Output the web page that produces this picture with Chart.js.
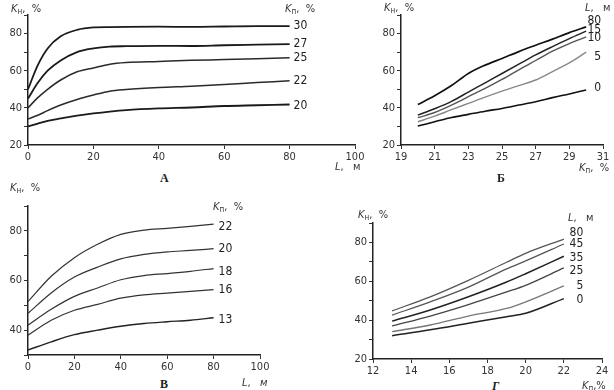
<!DOCTYPE html>
<html>
<head>
<meta charset="utf-8">
<script src="https://cdn.jsdelivr.net/npm/chart.js@4"></script>
<style>
  body { margin: 0; background: #fff; }
  #wrap { position: relative; width: 614px; height: 390px; overflow: hidden; background: #fff; }
  canvas { position: absolute; }
  .t { position: absolute; font-family: 'Liberation Sans Narrow', 'Arial Narrow', 'DejaVu Sans Condensed', sans-serif;
       font-size: 11px; line-height: 11px; color: #333; white-space: nowrap; }
  .t i { font-style: italic; }
  .t sub { font-size: 8px; vertical-align: -2px; line-height: 0; }
  .cap { position: absolute; font-family: 'Liberation Serif', 'DejaVu Serif', serif; font-weight: bold;
         font-size: 12px; line-height: 12px; color: #222; }
</style>
</head>
<body>
<div id="wrap">
  <canvas id="chA" width="375" height="165" style="left:0;top:0"></canvas>
  <canvas id="chB" width="243" height="165" style="left:372px;top:0"></canvas>
  <canvas id="chV" width="280" height="185" style="left:0;top:190px"></canvas>
  <canvas id="chG" width="269" height="179" style="left:345px;top:200px"></canvas>

  <div class="t" style="left:11px;top:3px"><i>K</i><sub>н</sub>,&nbsp; %</div>
  <div class="t" style="left:285px;top:3px"><i>K</i><sub>п</sub>,&nbsp; %</div>
  <div class="t" style="left:335px;top:161px"><i>L</i>,&nbsp;&nbsp; м</div>
  <div class="cap" style="left:160px;top:172px">А</div>

  <div class="t" style="left:384px;top:2px"><i>K</i><sub>н</sub>,&nbsp; %</div>
  <div class="t" style="left:585px;top:2px"><i>L</i>,&nbsp;&nbsp; м</div>
  <div class="t" style="left:579px;top:162px"><i>K</i><sub>п</sub>,&nbsp; %</div>
  <div class="cap" style="left:497px;top:172px">Б</div>

  <div class="t" style="left:10px;top:182px"><i>K</i><sub>н</sub>,&nbsp; %</div>
  <div class="t" style="left:213px;top:201px"><i>K</i><sub>п</sub>,&nbsp; %</div>
  <div class="t" style="left:242px;top:377px"><i>L</i>,&nbsp;&nbsp; <i>м</i></div>
  <div class="cap" style="left:160px;top:378px">В</div>

  <div class="t" style="left:358px;top:209px"><i>K</i><sub>н</sub>,&nbsp; %</div>
  <div class="t" style="left:568px;top:212px"><i>L</i>,&nbsp;&nbsp; м</div>
  <div class="t" style="left:582px;top:380px"><i>K</i><sub>п</sub>,%</div>
  <div class="cap" style="left:492px;top:380px;font-style:italic">Г</div>
</div>
<script>
// ---- panel A: Кн vs L for different Кп
const lenA = [0, 3, 6, 10, 15, 20, 25, 30, 40, 50, 60, 70, 80];
const kpA = ['30', '27', '25', '22', '20'];
const knA30 = [50, 63, 72, 78.5, 82, 83.3, 83.5, 83.6, 83.7, 83.6, 83.8, 84, 84];
const knA27 = [45, 53.5, 60, 65.5, 70, 72, 73, 73.2, 73.4, 73.3, 73.7, 74, 74.3];
const knA25 = [40, 45.5, 50, 55, 59.4, 61.5, 63.5, 64.4, 65, 65.6, 66, 66.5, 67];
const knA22 = [34, 36, 38.5, 41.5, 44.5, 46.9, 49, 49.9, 51, 51.7, 52.6, 53.6, 54.6];
const knA20 = [30, 31.5, 33, 34.3, 35.8, 37, 38, 38.8, 39.7, 40.2, 41, 41.4, 41.8];

// ---- panel Б: Кн vs Кп for different L
const kpB = [20, 21, 22, 23, 24, 25, 26, 27, 28, 29, 30];
const lB = ['80', '15', '10', '5', '0'];
const knB80 = [41.8, 46.5, 52, 58.5, 63, 66.6, 70.3, 73.7, 77, 80.5, 83.6];
const knB15 = [36.1, 39.5, 43.5, 48.5, 53.5, 58.5, 63.5, 68.5, 73, 77.3, 81.3];
const knB10 = [34.7, 37.5, 41.5, 46, 50.5, 55.3, 60.5, 65.5, 70.5, 74.6, 78.2];
const knB5 = [32.5, 35.5, 39, 42.4, 45.8, 49, 52, 55, 59.5, 64.2, 70];
const knB0 = [30.2, 32.5, 34.8, 36.5, 38.2, 39.7, 41.5, 43.3, 45.5, 47.5, 49.6];

// ---- panel В: Кн vs L for different Кп
const lenV = [0, 10, 20, 30, 40, 50, 60, 70, 80];
const kpV = ['22', '20', '18', '16', '13'];
const knV22 = [51.5, 61.7, 69.2, 74.6, 78.6, 80.3, 81, 81.8, 82.7];
const knV20 = [46.8, 55, 61.4, 65.4, 68.7, 70.5, 71.5, 72.1, 72.8];
const knV18 = [42, 48.4, 53.6, 57, 60.3, 62, 62.8, 63.7, 64.8];
const knV16 = [38, 44, 48, 50.4, 52.9, 54.2, 54.9, 55.6, 56.3];
const knV13 = [32, 35.3, 38.2, 40, 41.6, 42.7, 43.4, 44, 45];

// ---- panel Г: Кн vs Кп for different L
const kpG = [13, 15, 17, 19, 20, 22];
const lG = ['80', '45', '35', '25', '5', '0'];
const knG80 = [44.8, 52, 60.5, 69.8, 74.4, 81.7];
const knG45 = [42.6, 49.4, 57, 66.4, 70.5, 79.2];
const knG35 = [39.5, 45.2, 52, 59.6, 63.9, 72.9];
const knG25 = [37, 42.1, 48, 54.5, 57.9, 66.9];
const knG5 = [34.1, 37.5, 42.1, 46, 49.4, 57.6];
const knG0 = [32, 35, 38.4, 41.8, 43.5, 51.1];

const tickFont = { family: "'Liberation Sans Narrow', 'Arial Narrow', 'DejaVu Sans Condensed', sans-serif", size: 11 };

// writes each curve's name next to its last point
const endLabels = {
  id: 'endLabels',
  afterDatasetsDraw(chart, args, opts) {
    const ctx = chart.ctx;
    ctx.save();
    ctx.font = '12px ' + tickFont.family;
    ctx.fillStyle = '#222';
    ctx.textAlign = opts.align;
    ctx.textBaseline = 'middle';
    chart.data.datasets.forEach((ds, i) => {
      const pts = chart.getDatasetMeta(i).data;
      const p = pts[pts.length - 1];
      ctx.fillText(ds.label, p.x + opts.dx, p.y + (ds.labelDy || 0));
    });
    ctx.restore();
  }
};

function series(xs, ys, label, color, width, dy) {
  return {
    label: label,
    data: xs.map((x, i) => ({ x: x, y: ys[i] })),
    borderColor: color,
    borderWidth: width,
    pointRadius: 0,
    cubicInterpolationMode: 'monotone',
    fill: false,
    labelDy: dy
  };
}

function makePanel(id, datasets, x, y, pad, labelOpts) {
  const axisCommon = {
    type: 'linear',
    border: { display: true, color: '#222', width: 1.5 },
    grid: { drawOnChartArea: false, color: '#333', tickLength: 4, lineWidth: 1 },
  };
  new Chart(document.getElementById(id).getContext('2d'), {
    type: 'line',
    data: { datasets: datasets },
    options: {
      responsive: false,
      animation: false,
      events: [],
      layout: { padding: { top: pad.top, right: pad.right, left: 0, bottom: 0 } },
      plugins: { legend: { display: false }, tooltip: { enabled: false }, endLabels: labelOpts },
      scales: {
        x: Object.assign({}, axisCommon, {
          min: x.min, max: x.max,
          ticks: { stepSize: x.step, color: '#333', font: tickFont, padding: 2, maxRotation: 0, autoSkip: false },
          afterFit: s => { s.height = 20; }
        }),
        y: Object.assign({}, axisCommon, {
          min: y.min, max: y.max,
          afterBuildTicks: s => {
            const t = [];
            for (let v = y.min; v <= y.max; v += 10) t.push({ value: v });
            s.ticks = t;
          },
          ticks: { color: '#333', font: tickFont, padding: 2, callback: v => (v % 20 === 0 ? v : '') },
          afterFit: s => { s.width = y.w; }
        })
      }
    },
    plugins: [endLabels]
  });
}

makePanel('chA', [
  series(lenA, knA30, kpA[0], '#1a1a1a', 1.8, 0),
  series(lenA, knA27, kpA[1], '#1a1a1a', 1.8, 0),
  series(lenA, knA25, kpA[2], '#2a2a2a', 1.5, 0),
  series(lenA, knA22, kpA[3], '#2a2a2a', 1.5, 0),
  series(lenA, knA20, kpA[4], '#1a1a1a', 1.8, 1)
], { min: 0, max: 100, step: 20 }, { min: 20, max: 90, w: 28 }, { top: 15, right: 20 }, { dx: 4, align: 'left' });

makePanel('chB', [
  series(kpB, knB80, lB[0], '#111', 1.7, -6),
  series(kpB, knB15, lB[1], '#222', 1.5, -1.5),
  series(kpB, knB10, lB[2], '#555', 1.4, 1),
  series(kpB, knB5, lB[3], '#888', 1.4, 5),
  series(kpB, knB0, lB[4], '#111', 1.6, -2.5)
], { min: 19, max: 31, step: 2 }, { min: 20, max: 90, w: 29 }, { top: 15, right: 12 }, { dx: 15, align: 'right' });

makePanel('chV', [
  series(lenV, knV22, kpV[0], '#333', 1.2, 2.5),
  series(lenV, knV20, kpV[1], '#333', 1.2, 0),
  series(lenV, knV18, kpV[2], '#333', 1.2, 3.5),
  series(lenV, knV16, kpV[3], '#333', 1.2, 0.5),
  series(lenV, knV13, kpV[4], '#222', 1.4, 2.5)
], { min: 0, max: 100, step: 20 }, { min: 30, max: 90, w: 28 }, { top: 16, right: 20 }, { dx: 5, align: 'left' });

makePanel('chG', [
  series(kpG, knG80, lG[0], '#555', 1.3, -6.3),
  series(kpG, knG45, lG[1], '#555', 1.3, 0.3),
  series(kpG, knG35, lG[2], '#222', 1.5, 1.4),
  series(kpG, knG25, lG[3], '#444', 1.3, 3),
  series(kpG, knG5, lG[4], '#777', 1.3, 0),
  series(kpG, knG0, lG[5], '#222', 1.5, 1.3)
], { min: 12, max: 24, step: 2 }, { min: 20, max: 90, w: 28 }, { top: 23, right: 12 }, { dx: 19.5, align: 'right' });
</script>
</body>
</html>
